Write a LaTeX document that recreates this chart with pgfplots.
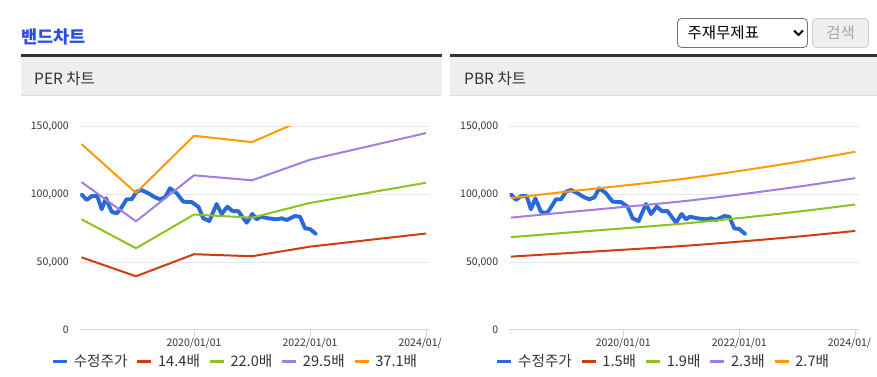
\documentclass[border=0pt]{standalone}
\usepackage{fontspec}
\setmainfont{Noto Sans CJK KR}
\usepackage{pgfplots}
\usepackage{pgfplotstable}
\pgfplotsset{compat=1.18}
\definecolor{cBlue}{HTML}{2A6AD8}
\definecolor{cRed}{HTML}{D03C10}
\definecolor{cGreen}{HTML}{8DC21F}
\definecolor{cPurple}{HTML}{A47DE0}
\definecolor{cOrange}{HTML}{FF9A00}
\definecolor{titleblue}{HTML}{2850E0}
\definecolor{panelgray}{HTML}{EFEFEF}
\definecolor{paneldark}{HTML}{333333}
\definecolor{panelline}{HTML}{DCDCDC}
\definecolor{axisc}{HTML}{CCD6EB}
\definecolor{gridc}{HTML}{E6E6E6}
\definecolor{tickc}{HTML}{333333}
\definecolor{textc}{HTML}{333333}

\pgfplotstableread{
year price
2018.063 100200
2018.149 96100
2018.236 98900
2018.333 98900
2018.408 89200
2018.483 97300
2018.580 87400
2018.667 86200
2018.724 88700
2018.839 96600
2018.925 96600
2019.011 102200
2019.098 103400
2019.213 101000
2019.328 98000
2019.414 96600
2019.500 98000
2019.586 104700
2019.701 101100
2019.816 94800
2019.960 94500
2020.075 91100
2020.161 82500
2020.264 80500
2020.391 93100
2020.477 85700
2020.575 91100
2020.667 87800
2020.764 87800
2020.908 79300
2021.006 85700
2021.080 81800
2021.149 83700
2021.282 82500
2021.425 81800
2021.511 82500
2021.598 81300
2021.741 84200
2021.828 83700
2021.914 75100
2022.000 74600
2022.103 70900
}\pricetable

\pgfplotstableread{
year r g p o
2018.06 53700 81800 109300 137400
2019.00 39700 60400 80300 101300
2020.00 56000 85300 114300 143500
2021.00 54500 83000 110600 138800
2022.00 61600 93900 125800 157500
2024.00 71300 108800 145500 182500
}\pertable

\pgfplotstableread{
year r g p o
2018.06 54200 68600 83000 97500
2019.00 56700 71800 86900 102100
2020.00 59300 75100 90900 106700
2021.00 62000 78500 95000 111500
2022.00 65300 82700 100100 117500
2023.00 69000 87400 105800 124200
2024.00 73200 92700 112200 131700
}\pbrtable

\pgfplotsset{
  bandaxis/.style={
    scale only axis, width=349.3pt, height=203pt,
    xmin=2018.0345, xmax=2024.057, ymin=0, ymax=150000,
    separate axis lines,
    axis x line*=bottom, axis y line*=left,
    x axis line style={draw=axisc, line width=1pt, -},
    y axis line style={draw=none},
    xtick={2020,2022,2024},
    xticklabels={2020/01/01,2022/01/01,{\rlap{2024/01/}\phantom{2024/01/01}}},
    ytick={0,50000,100000,150000},
    yticklabels={0,{50,000},{100,000},{150,000}},
    scaled y ticks=false,
    ymajorgrids, grid style={draw=gridc, line width=1pt},
    xtick style={draw=axisc, line width=1pt},
    ytick style={draw=none},
    xtick align=outside, ytick align=inside,
    major tick length=7pt,
    tick label style={font=\fontsize{10.5}{10.5}\selectfont, text=tickc},
    xticklabel style={inner sep=1pt},
    yticklabel style={inner sep=0pt, xshift=-11pt},
    clip=true,
    legend columns=-1,
    legend image code/.code={\draw[##1, line width=2.6pt, line cap=butt] (0pt,0pt) -- (14pt,0pt);},
    legend style={draw=none, fill=none, inner sep=0pt, outer sep=0pt,
      font=\fontsize{14.6}{14.6}\selectfont, text=textc, anchor=west,
      nodes={inner sep=3.5pt},
      /tikz/every odd column/.append style={column sep=2pt},
      /tikz/every even column/.append style={column sep=5pt}},
  },
  pricestyle/.style={cBlue, line width=3.9pt, line join=round, line cap=round},
  bandstyle/.style={line width=2pt, line join=round},
}

\begin{document}
\begin{tikzpicture}[x=1pt,y=1pt]
\path[use as bounding box, fill=white] (0,0) rectangle (877,377);
% title
\node[anchor=west, inner sep=0pt, text=titleblue, font=\fontsize{17.5}{17.5}\selectfont\bfseries] at (21,340.5) {밴드차트};
% select box and button
\draw[draw=black!55, fill=white, rounded corners=4pt, line width=0.8pt] (677.5,358.5) rectangle (807.5,329.5);
\node[anchor=west, inner sep=0pt, text=black, font=\fontsize{15.5}{15.5}\selectfont] at (687.5,344.5) {주재무제표};
\draw[black, line width=1.8pt] (794,346.5) -- (798.5,342) -- (803,346.5);
\draw[draw=black!20, fill=panelgray, rounded corners=4pt, line width=0.8pt] (812.5,358.5) rectangle (868.5,329.5);
\node[inner sep=0pt, text=black!35, font=\fontsize{15.5}{15.5}\selectfont] at (840.5,344.5) {검색};
% panels
\fill[panelgray] (21,282) rectangle (442,320);
\fill[paneldark] (21,320) rectangle (442,322.5);
\fill[panelline] (21,281) rectangle (442,282.2);
\fill[panelgray] (450,282) rectangle (877,320);
\fill[paneldark] (450,320) rectangle (877,322.5);
\fill[panelline] (450,281) rectangle (877,282.2);
\node[anchor=west, inner sep=0pt, text=textc, font=\fontsize{15.5}{15.5}\selectfont] at (34,298.5) {PER 차트};
\node[anchor=west, inner sep=0pt, text=textc, font=\fontsize{15.5}{15.5}\selectfont] at (464,298.5) {PBR 차트};

\begin{axis}[bandaxis, at={(80pt,47pt)}, anchor=south west,
  legend style={at={(-0.081,-0.156)}}]
\addplot[pricestyle] table[x=year,y=price] {\pricetable};
\addlegendentry{수정주가}
\addplot[bandstyle, cRed] table[x=year,y=r] {\pertable};
\addlegendentry{14.4배}
\addplot[bandstyle, cGreen] table[x=year,y=g] {\pertable};
\addlegendentry{22.0배}
\addplot[bandstyle, cPurple] table[x=year,y=p] {\pertable};
\addlegendentry{29.5배}
\addplot[bandstyle, cOrange] table[x=year,y=o] {\pertable};
\addlegendentry{37.1배}
\end{axis}

\begin{axis}[bandaxis, at={(509.3pt,47pt)}, anchor=south west,
  legend style={at={(-0.038,-0.156)}}]
\addplot[pricestyle] table[x=year,y=price] {\pricetable};
\addlegendentry{수정주가}
\addplot[bandstyle, cRed, smooth] table[x=year,y=r] {\pbrtable};
\addlegendentry{1.5배}
\addplot[bandstyle, cGreen, smooth] table[x=year,y=g] {\pbrtable};
\addlegendentry{1.9배}
\addplot[bandstyle, cPurple, smooth] table[x=year,y=p] {\pbrtable};
\addlegendentry{2.3배}
\addplot[bandstyle, cOrange, smooth] table[x=year,y=o] {\pbrtable};
\addlegendentry{2.7배}
\end{axis}
\end{tikzpicture}
\end{document}
